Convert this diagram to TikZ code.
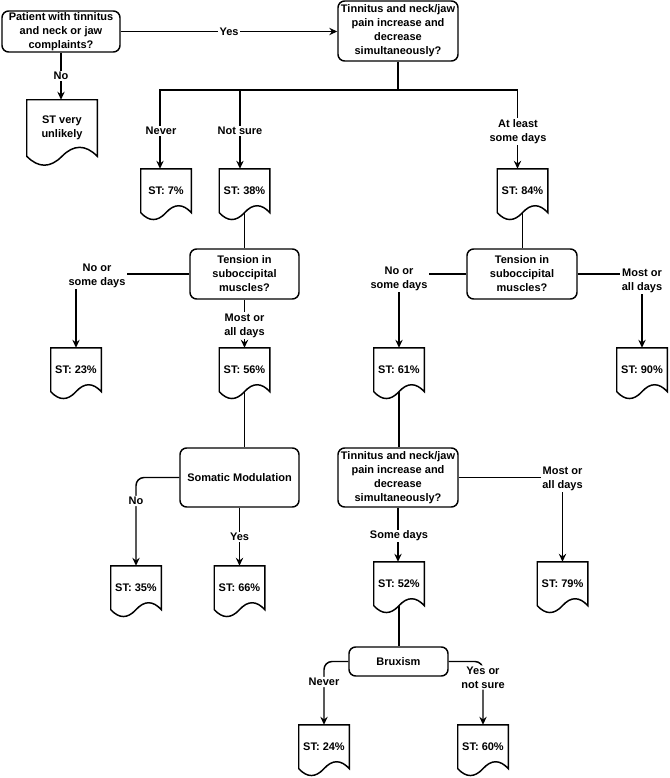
\documentclass[tikz,border=0pt]{standalone}
\usepackage{fontspec}
\setmainfont{Liberation Sans}
\usetikzlibrary{arrows.meta,calc}
\tikzset{
  txt/.style={font=\bfseries\fontsize{8.25}{10.5}\selectfont, align=center},
  box/.style={txt, draw, line width=1.1pt, rounded corners=5pt, inner sep=0pt},
  docbox/.style={txt, inner sep=0pt, minimum width=37.5pt, minimum height=32.5pt},
  bigdoc/.style={txt, inner sep=0pt, minimum width=52.5pt, minimum height=42pt},
  lbl/.style={txt, fill=white, inner sep=1pt},
  con/.style={line width=1.1pt},
  arr/.style={con, -{Stealth[length=6pt,width=5.5pt,inset=2pt]}},
}
\newcommand\stdocshape[2]{%
  \draw[con] (#1.south east) -- (#1.north east) -- (#1.north west) -- (#1.south west)
  .. controls ($(#1.south west)!0.1667!(#1.south east)+(0,#2)$) and ($(#1.south west)!0.3333!(#1.south east)+(0,#2)$) .. (#1.south)
  .. controls ($(#1.south west)!0.6667!(#1.south east)-(0,#2)$) and ($(#1.south west)!0.8333!(#1.south east)-(0,#2)$) .. (#1.south east) -- cycle;
}
\begin{document}
\begin{tikzpicture}[x=0.75pt,y=-0.75pt]
\useasboundingbox (0,0) rectangle (669,778);

% decision boxes
\node[box, minimum width=88.5pt, minimum height=30.75pt] (A) at (61,31.5) {Patient with tinnitus\\and neck or jaw\\complaints?};
\node[box, minimum width=90pt, minimum height=45pt] (B) at (398,31) {Tinnitus and neck/jaw\\pain increase and\\decrease\\simultaneously?};
\node[box, minimum width=81.75pt, minimum height=37.5pt] (T1) at (244.5,274) {Tension in\\suboccipital\\muscles?};
\node[box, minimum width=82.5pt, minimum height=37.5pt] (T2) at (522,274) {Tension in\\suboccipital\\muscles?};
\node[box, minimum width=90pt, minimum height=44.25pt] (T3) at (398,477.5) {Tinnitus and neck/jaw\\pain increase and\\decrease\\simultaneously?};
\node[box, minimum width=89.25pt, minimum height=44.25pt] (Som) at (239.5,477.5) {Somatic Modulation};
\node[box, minimum width=74.25pt, minimum height=21.75pt] (Brux) at (398.5,661.5) {Bruxism};

% document outcomes
\node[bigdoc] (STvu) at (62,128) {ST very\\unlikely};
\stdocshape{STvu}{11.9}
\node[docbox] (ST7) at (166,190.7) {ST: 7\%};
\node[docbox] (ST38) at (244.5,190.7) {ST: 38\%};
\node[docbox] (ST84) at (522.5,190.7) {ST: 84\%};
\node[docbox] (ST23) at (76,369.7) {ST: 23\%};
\node[docbox] (ST56) at (244.5,369.7) {ST: 56\%};
\node[docbox] (ST61) at (399,369.7) {ST: 61\%};
\node[docbox] (ST90) at (642,369.7) {ST: 90\%};
\node[docbox] (ST35) at (136,587.7) {ST: 35\%};
\node[docbox] (ST66) at (239.5,587.7) {ST: 66\%};
\node[docbox] (ST52) at (399,583.7) {ST: 52\%};
\node[docbox] (ST79) at (562.5,583.7) {ST: 79\%};
\node[docbox] (ST24) at (324,746.7) {ST: 24\%};
\node[docbox] (ST60) at (483,746.7) {ST: 60\%};
\foreach \n in {ST7,ST38,ST84,ST23,ST56,ST61,ST90,ST35,ST66,ST52,ST79,ST24,ST60}{\stdocshape{\n}{9.2}}

% connectors
\draw[arr] (A.east) -- (A.east -| B.west) node[lbl, midway] {Yes};
\draw[arr] (A.south) -- (A.south |- STvu.north) node[lbl, midway] {No};

\coordinate (br) at (398,90);
\draw[con] (B.south) -- (br);
\draw[arr] (br) -| ([xshift=-4.5pt]ST7.north) node[lbl, at={(161,131)}] {Never};
\draw[arr] (br) -| ([xshift=-3.4pt]ST38.north) node[lbl, at={(240,131)}] {Not sure};
\draw[arr] (br) -| ([xshift=-3.75pt]ST84.north) node[lbl, at={(518,131.5)}] {At least\\some days};

\draw[con] (ST38.south) -- (T1.north);
\draw[arr] (T1.west) -| (ST23.north) node[lbl, at={(97,276)}] {No or\\some days};
\draw[arr] (T1.south) -- (ST56.north) node[lbl, at={(244.5,325.5)}] {Most or\\all days};

\draw[con] (ST84.south) -- (ST84.south |- T2.north);
\draw[arr] (T2.west) -| (ST61.north) node[lbl, at={(399,279)}] {No or\\some days};
\draw[arr] (T2.east) -| (ST90.north) node[lbl, at={(642,280.5)}] {Most or\\all days};

\draw[con] (ST61.south) -- (ST61.south |- T3.north);
\draw[arr] (T3.east) -| (ST79.north) node[lbl, at={(562.5,479)}] {Most or\\all days};
\draw[arr] (T3.south) -- (T3.south |- ST52.north) node[lbl, at={(399,536)}] {Some days};

\draw[con] (ST52.south) -- (ST52.south |- Brux.north);
\draw[arr, rounded corners=6pt] (Brux.west) -| (ST24.north) node[lbl, at={(324,682)}] {Never};
\draw[arr, rounded corners=6pt] (Brux.east) -| (ST60.north) node[lbl, at={(483,677.5)}] {Yes or\\not sure};

\draw[con] (ST56.south) -- (ST56.south |- Som.north);
\draw[arr, rounded corners=6pt] (Som.west) -| (ST35.north) node[lbl, at={(136,501)}] {No};
\draw[arr] (Som.south) -- (ST66.north) node[lbl, at={(239.5,537)}] {Yes};
\end{tikzpicture}
\end{document}
